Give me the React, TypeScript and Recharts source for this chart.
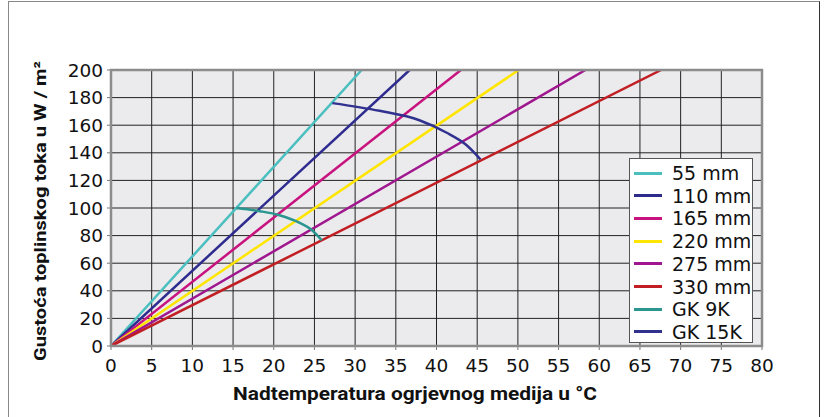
import React from 'react';
import { LineChart, Line, XAxis, YAxis, CartesianGrid } from 'recharts';

// temperature (t, °C) vs heat flux density (q, W/m²)
const s55 = [{ t: 0, q: 0 }, { t: 30.8, q: 200 }];
const s110 = [{ t: 0, q: 0 }, { t: 36.7, q: 200 }];
const s165 = [{ t: 0, q: 0 }, { t: 43.0, q: 200 }];
const s220 = [{ t: 0, q: 0 }, { t: 50.1, q: 200 }];
const s275 = [{ t: 0, q: 0 }, { t: 58.3, q: 200 }];
const s330 = [{ t: 0, q: 0 }, { t: 67.6, q: 200 }];
const gk9 = [
  { t: 15.4, q: 100 }, { t: 18.3, q: 97.7 }, { t: 20.7, q: 94.8 },
  { t: 23.2, q: 89.2 }, { t: 24.6, q: 84.4 }, { t: 25.9, q: 76.6 },
];
const gk15 = [
  { t: 27.2, q: 176 }, { t: 33.0, q: 170.4 }, { t: 37.9, q: 163.6 },
  { t: 41.2, q: 154.7 }, { t: 43.6, q: 146 }, { t: 45.4, q: 135.3 },
];

const xTicks = [0, 5, 10, 15, 20, 25, 30, 35, 40, 45, 50, 55, 60, 65, 70, 75, 80];
const yTicks = [0, 20, 40, 60, 80, 100, 120, 140, 160, 180, 200];

const seriesNames = ['55 mm', '110 mm', '165 mm', '220 mm', '275 mm', '330 mm', 'GK 9K', 'GK 15K'];
const seriesData = [s55, s110, s165, s220, s275, s330, gk9, gk15];
const seriesColors = ['#4bbfbf', '#2e2b8f', '#c8137f', '#ffe500', '#a0168f', '#c11f24', '#2a968f', '#31318f'];

const tickFont = { fill: '#111', fontSize: 18.5, fontFamily: 'DejaVu Sans' };

const PLOT = { left: 111, top: 70, width: 651, height: 276 };

const Legend = () => (
  <div style={{
    position: 'absolute', left: 629, top: 158, width: 124, height: 185,
    background: '#fff', border: '1px solid #555', boxSizing: 'border-box',
  }}>
    {seriesNames.map((name, i) => (
      <div key={name} style={{
        position: 'absolute', left: 0, top: 3 + i * 22.7, height: 22, display: 'flex', alignItems: 'center',
      }}>
        <span style={{ display: 'inline-block', marginLeft: 4, width: 28, height: 3, background: seriesColors[i] }} />
        <span style={{ marginLeft: 10, fontFamily: 'DejaVu Sans', fontSize: 19, color: '#111', whiteSpace: 'nowrap' }}>{name}</span>
      </div>
    ))}
  </div>
);

export default function App() {
  return (
    <div style={{ position: 'absolute', left: 0, top: 0, width: 825, height: 417, background: '#fff', overflow: 'hidden' }}>
      <div style={{
        position: 'absolute', left: 8, top: 1, width: 812, height: 440,
        border: '1.5px solid #888', borderRightColor: '#333', boxSizing: 'border-box',
      }} />
      <LineChart width={825} height={417} margin={{ top: 70, right: 63, left: 0, bottom: 0 }}>
        <CartesianGrid fill="#ebebed" stroke="#222" strokeWidth={1} />
        <XAxis
          type="number" dataKey="t" domain={[0, 80]} ticks={xTicks} interval={0}
          height={71} tick={tickFont} tickSize={4} tickMargin={9}
          axisLine={false} tickLine={{ stroke: '#777' }} allowDataOverflow
        />
        <YAxis
          type="number" dataKey="q" domain={[0, 200]} ticks={yTicks} interval={0}
          width={111} tick={tickFont} tickSize={4} tickMargin={4}
          axisLine={false} tickLine={{ stroke: '#777' }} allowDataOverflow
        />
        {seriesData.map((d, i) => (
          <Line
            key={seriesNames[i]} data={d} dataKey="q" type={i >= 6 ? 'monotone' : 'linear'}
            stroke={seriesColors[i]} strokeWidth={2.5} dot={false} isAnimationActive={false}
          />
        ))}
      </LineChart>
      <svg width={825} height={417} style={{ position: 'absolute', left: 0, top: 0, pointerEvents: 'none' }}>
        <rect x={PLOT.left} y={PLOT.top} width={PLOT.width} height={PLOT.height} fill="none" stroke="#8c8c8c" strokeWidth={2.5} />
        <text x={415} y={400} textAnchor="middle" fontFamily="Roboto" fontWeight={700} fontSize={18}
          textLength={364} lengthAdjust="spacingAndGlyphs" fill="#111">
          Nadtemperatura ogrjevnog medija u °C
        </text>
        <text x={0} y={0} transform="translate(46,211) rotate(-90)" textAnchor="middle" fontFamily="Roboto" fontWeight={700} fontSize={17}
          textLength={300} lengthAdjust="spacingAndGlyphs" fill="#111">
          Gustoća toplinskog toka u W / m²
        </text>
      </svg>
      <Legend />
    </div>
  );
}
